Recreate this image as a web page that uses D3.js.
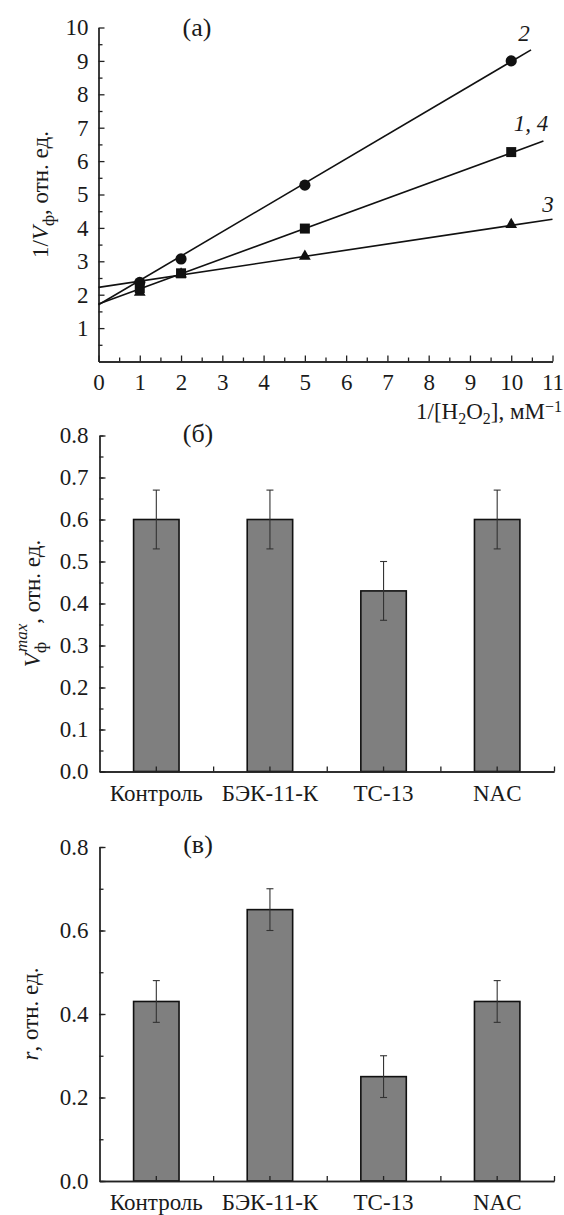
<html>
<meta charset="utf-8">
<script src="https://cdn.jsdelivr.net/npm/d3@7"></script>
<style>
body { margin: 0; background: white; }
svg text { font-family: "Liberation Serif", "Times New Roman", serif; fill: #1a1a1a; }
.axis path, .axis line { stroke: #222; stroke-width: 1.3; }
.fit { stroke: #111; stroke-width: 1.6; fill: none; }
.bar { fill: #7f7f7f; stroke: #111; stroke-width: 1.6; }
.err { stroke: #333; stroke-width: 1.1; }
</style>
<body>
<div id="chart"></div>
<script>
// panel (a): Lineweaver-Burk
var invH2O2 = [1, 2, 5, 10];
var curve2 = [2.37, 3.07, 5.28, 9.0];
var curve14 = [2.2, 2.64, 3.98, 6.27];
var curve3 = [2.07, 2.62, 3.15, 4.1];
// fitted lines, start/end
var fit2 = [[0, 1.7], [10.48, 9.33]];
var fit14 = [[0, 1.72], [10.78, 6.6]];
var fit3 = [[0, 2.22], [11, 4.26]];

// panels (б) and (в)
var groups = ["Контроль", "БЭК-11-К", "ТС-13", "NAC"];
var vmax = [0.6, 0.6, 0.43, 0.6];
var vmaxErr = [0.07, 0.07, 0.07, 0.07];
var rVal = [0.43, 0.65, 0.25, 0.43];
var rErr = [0.05, 0.05, 0.05, 0.05];

var serif = "'Liberation Serif', 'Times New Roman', serif";
var width = 564, height = 1215;
var svg = d3.select("#chart").append("svg").attr("width", width).attr("height", height);

function styleAxis(sel){
  sel.attr("font-family", serif).attr("font-size", 23);
  sel.selectAll("text").style("font-family", serif).style("font-size", "23px").attr("fill", "#1a1a1a");
}

// ---------- (a)
var xA = d3.scaleLinear().domain([0, 11]).range([98.5, 552.5]);
var yA = d3.scaleLinear().domain([0, 10]).range([361.5, 27.5]);
var gA = svg.append("g");

gA.append("g").attr("class", "axis").attr("transform", "translate(0," + yA(0) + ")")
  .call(d3.axisBottom(xA).tickValues(d3.range(0.5, 11, 1)).tickSize(-4).tickSizeOuter(0).tickFormat(""));
gA.append("g").attr("class", "axis").attr("transform", "translate(0," + yA(0) + ")")
  .call(d3.axisBottom(xA).tickValues(d3.range(0, 12)).tickSize(-6).tickSizeOuter(0).tickPadding(12).tickFormat(d3.format("d")))
  .call(styleAxis);
gA.append("g").attr("class", "axis").attr("transform", "translate(" + xA(0) + ",0)")
  .call(d3.axisLeft(yA).tickValues(d3.range(0.5, 10, 1)).tickSize(-4).tickSizeOuter(0).tickFormat(""));
gA.append("g").attr("class", "axis").attr("transform", "translate(" + xA(0) + ",0)")
  .call(d3.axisLeft(yA).tickValues(d3.range(1, 11)).tickSize(-6).tickSizeOuter(0).tickPadding(10).tickFormat(d3.format("d")))
  .call(styleAxis);

var line = d3.line().x(function(d){return xA(d[0])}).y(function(d){return yA(d[1])});
[fit2, fit14, fit3].forEach(function(f){
  gA.append("path").attr("class", "fit").attr("d", line(f));
});

function pts(vals){ return invH2O2.map(function(x, i){ return [x, vals[i]]; }); }
gA.selectAll(".c3").data(pts(curve3)).enter().append("path")
  .attr("d", d3.symbol().type(d3.symbolTriangle).size(60))
  .attr("transform", function(d){return "translate(" + xA(d[0]) + "," + yA(d[1]) + ")"})
  .attr("fill", "#111");
gA.selectAll(".c14").data(pts(curve14)).enter().append("rect")
  .attr("x", function(d){return xA(d[0]) - 5}).attr("y", function(d){return yA(d[1]) - 5})
  .attr("width", 10).attr("height", 10).attr("fill", "#111");
gA.selectAll(".c2").data(pts(curve2)).enter().append("circle")
  .attr("cx", function(d){return xA(d[0])}).attr("cy", function(d){return yA(d[1])})
  .attr("r", 5.6).attr("fill", "#111");

gA.append("text").attr("x", 524).attr("y", 41).attr("text-anchor", "middle")
  .style("font-size", "23px").style("font-style", "italic").text("2");
gA.append("text").attr("x", 531).attr("y", 131).attr("text-anchor", "middle")
  .style("font-size", "23px").style("font-style", "italic").text("1, 4");
gA.append("text").attr("x", 548).attr("y", 212).attr("text-anchor", "middle")
  .style("font-size", "23px").style("font-style", "italic").text("3");
gA.append("text").attr("x", 197).attr("y", 36).attr("text-anchor", "middle")
  .style("font-size", "26px").text("(a)");

var xtA = gA.append("text").attr("x", 562).attr("y", 419).attr("text-anchor", "end").style("font-size", "23px");
xtA.append("tspan").text("1/[H");
xtA.append("tspan").attr("dy", 5).style("font-size", "16px").text("2");
xtA.append("tspan").attr("dy", -5).text("O");
xtA.append("tspan").attr("dy", 5).style("font-size", "16px").text("2");
xtA.append("tspan").attr("dy", -5).text("], мМ");
xtA.append("tspan").attr("dy", -7).style("font-size", "16px").text("−1");

var ytA = gA.append("text").attr("transform", "translate(48," + yA(5) + ") rotate(-90)")
  .attr("text-anchor", "middle").style("font-size", "23px");
ytA.append("tspan").text("1/");
ytA.append("tspan").style("font-style", "italic").text("V");
ytA.append("tspan").attr("dy", 6).style("font-size", "17px").text("ф");
ytA.append("tspan").attr("dy", -6).text(", отн. ед.");

// ---------- bar panels
function barPanel(top, bottom, vals, errs, majorStep, minorStep, tag, titleFn){
  var x = d3.scaleBand().domain(groups).range([99.5, 554]).paddingInner(0.6).paddingOuter(0.3);
  var xl = d3.scaleLinear().domain([0, groups.length]).range([99.5, 554]);
  var y = d3.scaleLinear().domain([0, 0.8]).range([bottom, top]);
  var g = svg.append("g");

  g.selectAll(".bar").data(vals).enter().append("rect").attr("class", "bar")
    .attr("x", function(d, i){return x(groups[i])})
    .attr("width", x.bandwidth())
    .attr("y", function(d){return y(d)})
    .attr("height", function(d){return y(0) - y(d)});

  var cx = function(i){ return x(groups[i]) + x.bandwidth() / 2; };
  vals.forEach(function(v, i){
    g.append("line").attr("class", "err").attr("x1", cx(i)).attr("x2", cx(i))
      .attr("y1", y(v - errs[i])).attr("y2", y(v + errs[i]));
    [v - errs[i], v + errs[i]].forEach(function(e){
      g.append("line").attr("class", "err").attr("x1", cx(i) - 3.5).attr("x2", cx(i) + 3.5)
        .attr("y1", y(e)).attr("y2", y(e));
    });
  });

  g.append("g").attr("class", "axis").attr("transform", "translate(0," + bottom + ")")
    .call(d3.axisBottom(xl).tickValues([1, 2, 3, 4]).tickSize(-5).tickSizeOuter(0).tickFormat(""));
  g.append("g").attr("class", "axis").attr("transform", "translate(0," + bottom + ")")
    .call(d3.axisBottom(x).tickSize(-5).tickSizeOuter(0).tickPadding(13))
    .call(styleAxis);
  g.append("g").attr("class", "axis").attr("transform", "translate(99.5,0)")
    .call(d3.axisLeft(y).tickValues(d3.range(0, 0.8001, minorStep)).tickSize(-4).tickSizeOuter(0).tickFormat(""));
  g.append("g").attr("class", "axis").attr("transform", "translate(99.5,0)")
    .call(d3.axisLeft(y).tickValues(d3.range(0, 0.8001, majorStep)).tickSize(-6).tickSizeOuter(0).tickPadding(11).tickFormat(d3.format(".1f")))
    .call(styleAxis);

  g.append("text").attr("x", 198).attr("y", top + 6).attr("text-anchor", "middle")
    .style("font-size", "26px").text(tag);
  titleFn(g, (top + bottom) / 2);
}

barPanel(435.5, 771.5, vmax, vmaxErr, 0.1, 0.05, "(б)", function(g, cy){
  var t = g.append("text").attr("transform", "translate(40," + cy + ") rotate(-90)")
    .attr("text-anchor", "middle").style("font-size", "23px");
  t.append("tspan").style("font-style", "italic").text("V");
  t.append("tspan").attr("dy", 6).style("font-size", "17px").text("ф");
  t.append("tspan").attr("dx", -10).attr("dy", -19).style("font-size", "17px").style("font-style", "italic").text("max");
  t.append("tspan").attr("dy", 13).text(", отн. ед.");
});

barPanel(847, 1181, rVal, rErr, 0.2, 0.1, "(в)", function(g, cy){
  var t = g.append("text").attr("transform", "translate(38," + cy + ") rotate(-90)")
    .attr("text-anchor", "middle").style("font-size", "23px");
  t.append("tspan").style("font-style", "italic").text("r");
  t.append("tspan").text(", отн. ед.");
});
</script>
</body>
</html>
